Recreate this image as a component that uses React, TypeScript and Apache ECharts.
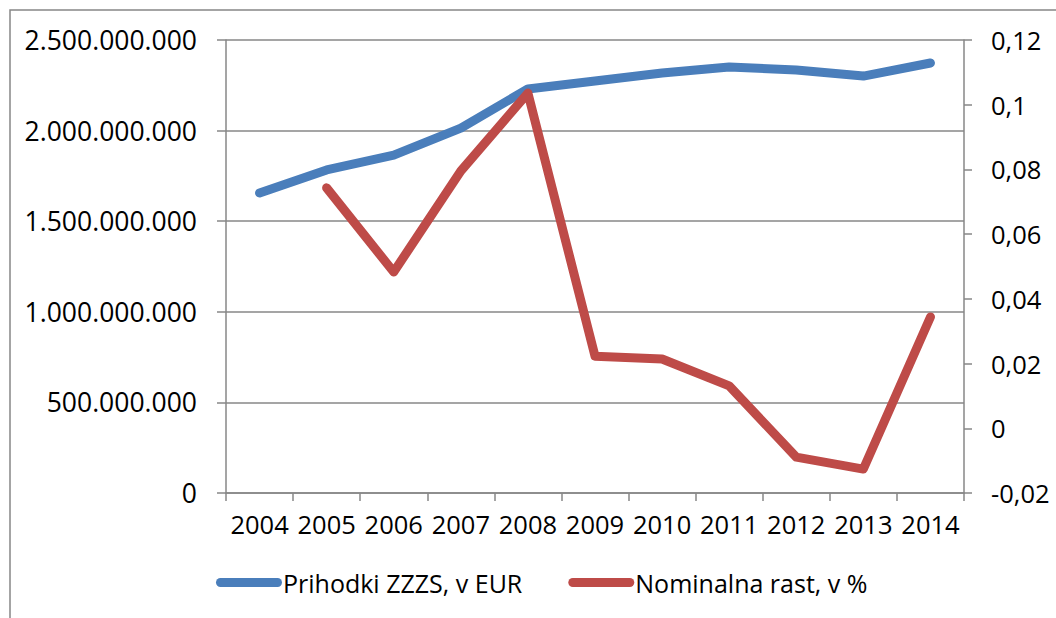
import React, { useEffect, useRef } from "react";
import * as echarts from "echarts";

const years = ["2004", "2005", "2006", "2007", "2008", "2009", "2010", "2011", "2012", "2013", "2014"];
const revenueEUR = [1.656e9, 1.783e9, 1.865e9, 2.014e9, 2.23e9, 2.274e9, 2.318e9, 2.351e9, 2.334e9, 2.301e9, 2.373e9];
const nominalGrowth = [null, 0.0743, 0.0483, 0.0795, 0.1036, 0.0223, 0.0214, 0.0131, -0.0089, -0.0126, 0.0344];
const seriesNames = ["Prihodki ZZZS, v EUR", "Nominalna rast, v %"];

const FONT = "'Open Sans', 'Noto Sans', sans-serif";
const GRAY = "#878787";

const fmtLeft = (v: number) => Math.round(v).toString().replace(/\B(?=(\d{3})+(?!\d))/g, ".");
const fmtRight = (v: number) => String(+v.toFixed(2)).replace(".", ",");

export default function App() {
  const ref = useRef<HTMLDivElement>(null);
  useEffect(() => {
    if (!ref.current) return;
    const chart = echarts.init(ref.current, null, { renderer: "svg" });
    chart.setOption({
      animation: false,
      backgroundColor: "#ffffff",
      textStyle: { fontFamily: FONT },
      graphic: [
        {
          type: "rect",
          z: -1,
          shape: { x: 10, y: 10, width: 1200, height: 800 },
          style: { fill: "none", stroke: GRAY, lineWidth: 1.5 },
        },
      ],
      grid: { left: 226, right: 92, top: 40, bottom: 125 },
      legend: {
        left: 216,
        top: 570,
        padding: 0,
        itemWidth: 66,
        itemHeight: 9,
        itemGap: 46,
        icon: "path://M4.5,0H61.5A4.5,4.5,0,0,1,61.5,9H4.5A4.5,4.5,0,0,1,4.5,0Z",
        textStyle: { fontSize: 25, color: "#000", fontFamily: FONT, padding: [0, 0, 0, -4] },
        data: seriesNames,
      },
      xAxis: {
        type: "category",
        data: years,
        boundaryGap: true,
        axisLine: { show: true, lineStyle: { color: GRAY, width: 1.5 } },
        axisTick: { show: true, length: 8, interval: 0, alignWithLabel: false, lineStyle: { color: GRAY, width: 1.5 } },
        axisLabel: { interval: 0, fontSize: 25.5, color: "#000", margin: 18, fontFamily: FONT },
        splitLine: { show: false },
      },
      yAxis: [
        {
          type: "value",
          position: "left",
          min: 0,
          max: 2500000000,
          interval: 500000000,
          axisLine: { show: true, lineStyle: { color: GRAY, width: 1.5 } },
          axisTick: { show: true, length: 9, lineStyle: { color: GRAY, width: 1.5 } },
          axisLabel: { fontSize: 26.5, color: "#000", margin: 29, formatter: fmtLeft, fontFamily: FONT },
          splitLine: { show: true, lineStyle: { color: GRAY, width: 1.5 } },
        },
        {
          type: "value",
          position: "right",
          min: -0.02,
          max: 0.12,
          interval: 0.02,
          axisLine: { show: true, lineStyle: { color: GRAY, width: 1.5 } },
          axisTick: { show: true, length: 8, lineStyle: { color: GRAY, width: 1.5 } },
          axisLabel: { fontSize: 25.5, color: "#000", margin: 27, formatter: fmtRight, fontFamily: FONT },
          splitLine: { show: false },
        },
      ],
      series: [
        {
          name: seriesNames[0],
          type: "line",
          yAxisIndex: 0,
          data: revenueEUR,
          symbol: "none",
          color: "#4A7EBB",
          lineStyle: { width: 9, color: "#4A7EBB", cap: "round", join: "round" },
        },
        {
          name: seriesNames[1],
          type: "line",
          yAxisIndex: 1,
          data: nominalGrowth,
          symbol: "none",
          color: "#BE4B48",
          lineStyle: { width: 9, color: "#BE4B48", cap: "round", join: "round" },
        },
      ],
    });
    return () => chart.dispose();
  }, []);
  return <div ref={ref} style={{ position: "fixed", left: 0, top: 0, width: 1056, height: 618 }} />;
}
